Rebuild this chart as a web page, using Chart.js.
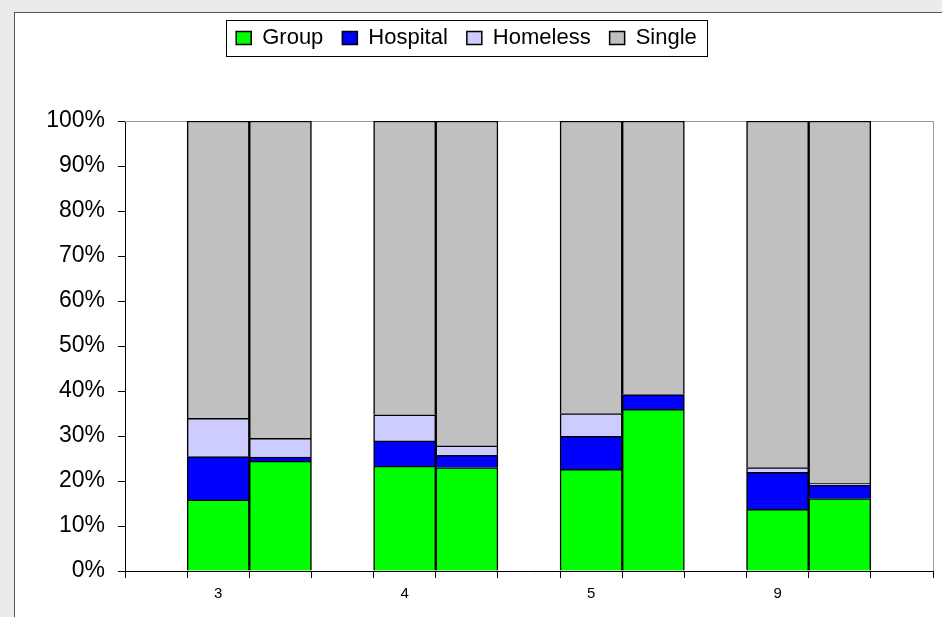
<!DOCTYPE html>
<html>
<head>
<meta charset="utf-8">
<script src="https://cdn.jsdelivr.net/npm/chart.js@4.4.0/dist/chart.umd.min.js"></script>
<style>
  html, body { margin: 0; padding: 0; background: #ebebeb; overflow: hidden; }
  #frame { position: absolute; left: 14px; top: 12px; width: 1000px; height: 700px; background: #fff; border: 1px solid #555; }
  #chart { position: absolute; left: 0; top: 0; }
</style>
</head>
<body>
<div id="frame"></div>
<canvas id="chart" width="942" height="617"></canvas>
<script>
// 13 slots on the category axis, two bars per labelled group, empty slots between
const categories = ['', '3', '', '', '4', '', '', '5', '', '', '9', '', ''];
const groupValues    = [null, 15.8, 24.4, null, 23.3, 23.0, null, 22.6, 35.9, null, 13.7, 16.1, null];
const hospitalValues = [null, 9.6, 0.9, null, 5.6, 2.7, null, 7.3, 3.3, null, 8.2, 3.0, null];
const homelessValues = [null, 8.5, 4.2, null, 5.8, 2.1, null, 5.1, 0.0, null, 1.1, 0.4, null];
const singleValues   = [null, 66.1, 70.5, null, 65.3, 72.2, null, 65.0, 60.8, null, 77.0, 80.5, null];
const yTicks = [0, 10, 20, 30, 40, 50, 60, 70, 80, 90, 100];

const FONT = "'Liberation Sans', Arial, sans-serif";

const makeSet = (label, data, color) => ({
    label: label,
    data: data,
    backgroundColor: color,
    borderColor: '#000',
    borderWidth: 1.5
});

// push the plot area down below the legend
const legendSpace = {
    id: 'legendSpace',
    beforeInit(chart) {
        const fit = chart.legend.fit;
        chart.legend.fit = function () {
            fit.bind(chart.legend)();
            this.height = 113;
        };
    }
};

// box round the legend items + grey top/right edge of the plot area
const frames = {
    id: 'frames',
    beforeDatasetsDraw(chart) {
        const { ctx, chartArea } = chart;
        ctx.save();
        ctx.strokeStyle = '#999';
        ctx.lineWidth = 1;
        ctx.beginPath();
        ctx.moveTo(chartArea.left, chartArea.top + 0.5);
        ctx.lineTo(chartArea.right + 0.5, chartArea.top + 0.5);
        ctx.lineTo(chartArea.right + 0.5, chartArea.bottom);
        ctx.stroke();
        ctx.restore();
    },
    afterDraw(chart) {
        const boxes = chart.legend.legendHitBoxes;
        if (!boxes || !boxes.length) return;
        const left = Math.min(...boxes.map(b => b.left));
        const right = Math.max(...boxes.map(b => b.left + b.width));
        const top = Math.min(...boxes.map(b => b.top));
        const bottom = Math.max(...boxes.map(b => b.top + b.height));
        const ctx = chart.ctx;
        ctx.save();
        ctx.strokeStyle = '#000';
        ctx.lineWidth = 1;
        ctx.strokeRect(Math.round(left - 10) + 0.5, Math.round(top - 7) + 0.5,
            Math.round(right - left + 20), Math.round(bottom - top + 14));
        ctx.restore();
    }
};

new Chart(document.getElementById('chart'), {
    type: 'bar',
    data: {
        labels: categories,
        datasets: [
            makeSet('Group', groupValues, '#00ff00'),
            makeSet('Hospital', hospitalValues, '#0000ff'),
            makeSet('Homeless', homelessValues, '#ccccff'),
            makeSet('Single', singleValues, '#c0c0c0')
        ]
    },
    options: {
        responsive: false,
        animation: false,
        events: [],
        barPercentage: 1,
        categoryPercentage: 1,
        layout: { padding: { top: 8, right: 9, left: 0, bottom: 0 } },
        plugins: {
            tooltip: { enabled: false },
            legend: {
                position: 'top',
                labels: {
                    boxWidth: 15,
                    boxHeight: 13,
                    padding: 19,
                    color: '#000',
                    font: { family: FONT, size: 22 }
                }
            }
        },
        scales: {
            x: {
                stacked: true,
                offset: true,
                grid: { offset: true, drawOnChartArea: false, tickLength: 7, color: '#000' },
                border: { color: '#000' },
                ticks: { color: '#000', padding: 7, autoSkip: false, maxRotation: 0, font: { family: FONT, size: 15 } },
                afterFit(scale) { scale.height = 46; }
            },
            y: {
                stacked: true,
                min: 0,
                max: 100,
                grid: { drawOnChartArea: false, tickLength: 7, color: '#000' },
                border: { color: '#000' },
                afterBuildTicks(scale) { scale.ticks = yTicks.map(v => ({ value: v })); },
                ticks: {
                    color: '#000',
                    padding: 13,
                    font: { family: FONT, size: 23 },
                    callback: v => v + '%'
                },
                afterFit(scale) { scale.width = 125; }
            }
        }
    },
    plugins: [legendSpace, frames]
});
</script>
</body>
</html>
